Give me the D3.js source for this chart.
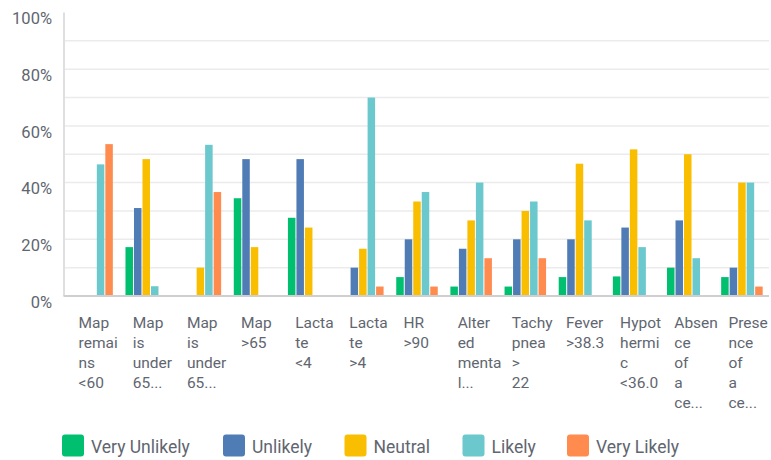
<!DOCTYPE html>
<html>
<head>
<meta charset="utf-8">
<script src="https://cdn.jsdelivr.net/npm/d3@7"></script>
<style>
  html, body { margin: 0; padding: 0; background: #fff; }
  svg { display: block; }
  text { font-family: Roboto, "Noto Sans", sans-serif; }
</style>
</head>
<body>
<svg id="chart" width="771" height="460"></svg>
<script>
// ---- data ----
const categories = [
  "Map remains <60", "Map is under 65 (a)", "Map is under 65 (b)", "Map >65",
  "Lactate <4", "Lactate >4", "HR >90", "Altered mental", "Tachypnea > 22",
  "Fever >38.3", "Hypothermic <36.0", "Absence of a ce", "Presence of a ce"
];
const tickLabels = [
  ["Map","remai","ns","<60"],
  ["Map","is","under","65..."],
  ["Map","is","under","65..."],
  ["Map",">65"],
  ["Lacta","te","<4"],
  ["Lacta","te",">4"],
  ["HR",">90"],
  ["Alter","ed","menta","l..."],
  ["Tachy","pnea",">","22"],
  ["Fever",">38.3"],
  ["Hypot","hermi","c","<36.0"],
  ["Absen","ce","of","a","ce..."],
  ["Prese","nce","of","a","ce..."]
];
const seriesNames = ["Very Unlikely", "Unlikely", "Neutral", "Likely", "Very Likely"];
const veryUnlikely = [0, 17.24, 0, 34.48, 27.59, 0, 6.67, 3.33, 3.33, 6.67, 6.90, 10.00, 6.67];
const unlikely     = [0, 31.03, 0, 48.28, 48.28, 10.00, 20.00, 16.67, 20.00, 20.00, 24.14, 26.67, 10.00];
const neutral      = [0, 48.28, 10.00, 17.24, 24.14, 16.67, 33.33, 26.67, 30.00, 46.67, 51.72, 50.00, 40.00];
const likely       = [46.43, 3.45, 53.33, 0, 0, 70.00, 36.67, 40.00, 33.33, 26.67, 17.24, 13.33, 40.00];
const veryLikely   = [53.57, 0, 36.67, 0, 0, 3.33, 3.33, 13.33, 13.33, 0, 0, 0, 3.33];
const yTicks = [0, 20, 40, 60, 80, 100];
const colors = ["#00BF6F", "#507CB6", "#F9BE00", "#6BC8CD", "#FF8B4F"];

const seriesValues = [veryUnlikely, unlikely, neutral, likely, veryLikely];

// ---- layout ----
const svg = d3.select("#chart");
const plot = { left: 65, right: 769, top: 12.5, bottom: 296 };

const x0 = d3.scaleBand().domain(categories).range([plot.left, plot.right])
  .paddingInner(0.215).paddingOuter(0.1075);
const x1 = d3.scaleBand().domain(seriesNames).range([0, x0.bandwidth()]);
const y = d3.scaleLinear().domain([0, 100]).range([plot.bottom, plot.top]);
const color = d3.scaleOrdinal().domain(seriesNames).range(colors);

// gridlines every 10%
svg.append("g").selectAll("line")
  .data(d3.range(10, 100, 10))
  .join("line")
  .attr("x1", plot.left).attr("x2", plot.right)
  .attr("y1", d => y(d)).attr("y2", d => y(d))
  .attr("stroke", "#ebebeb").attr("stroke-width", 1.5);

// y labels
svg.append("g").selectAll("text")
  .data(yTicks)
  .join("text")
  .attr("x", 52)
  .attr("y", d => y(d) + 7.5)
  .attr("text-anchor", "end")
  .attr("dominant-baseline", "middle")
  .attr("font-size", 16.5)
  .attr("fill", "#5f6670")
  .text(d => d + "%");

// bars
const groups = svg.append("g").selectAll("g")
  .data(categories)
  .join("g")
  .attr("transform", c => `translate(${x0(c)},0)`);

groups.selectAll("rect")
  .data((c, i) => seriesNames.map((s, k) => ({ s, v: seriesValues[k][i] })))
  .join("rect")
  .filter(d => d.v > 0)
  .attr("x", d => x1(d.s) + 0.5)
  .attr("width", x1.bandwidth() - 1)
  .attr("y", d => y(d.v))
  .attr("height", d => y(0) - y(d.v))
  .attr("fill", d => color(d.s));

// axes lines
svg.append("line")
  .attr("x1", plot.left - 1).attr("x2", plot.left - 1)
  .attr("y1", plot.top).attr("y2", plot.bottom)
  .attr("stroke", "#d4d4d4").attr("stroke-width", 1.5);
svg.append("line")
  .attr("x1", plot.left - 1.5).attr("x2", plot.right)
  .attr("y1", plot.bottom).attr("y2", plot.bottom)
  .attr("stroke", "#cfcfcf").attr("stroke-width", 2);

// x labels
const xl = svg.append("g").selectAll("text")
  .data(categories)
  .join("text")
  .attr("font-size", 15.5)
  .attr("fill", "#5f6670")
  .attr("x", c => x0(c) + x0.bandwidth() / 2 - 13.5)
  .attr("y", 328);
xl.selectAll("tspan")
  .data((c, i) => tickLabels[i].map(t => ({ t, c })))
  .join("tspan")
  .attr("x", d => x0(d.c) + x0.bandwidth() / 2 - 13.5)
  .attr("dy", (d, j) => j === 0 ? 0 : 20)
  .text(d => d.t);

// legend
const legendX = [62, 223, 344.5, 462.5, 567];
const lg = svg.append("g").selectAll("g")
  .data(seriesNames)
  .join("g")
  .attr("transform", (s, i) => `translate(${legendX[i]},434.5)`);
lg.append("rect")
  .attr("width", 22).attr("height", 22).attr("rx", 3)
  .attr("fill", s => color(s));
lg.append("text")
  .attr("x", 29).attr("y", 18)
  .attr("font-size", 17.5)
  .attr("fill", "#5f6670")
  .text(s => s);
</script>
</body>
</html>
